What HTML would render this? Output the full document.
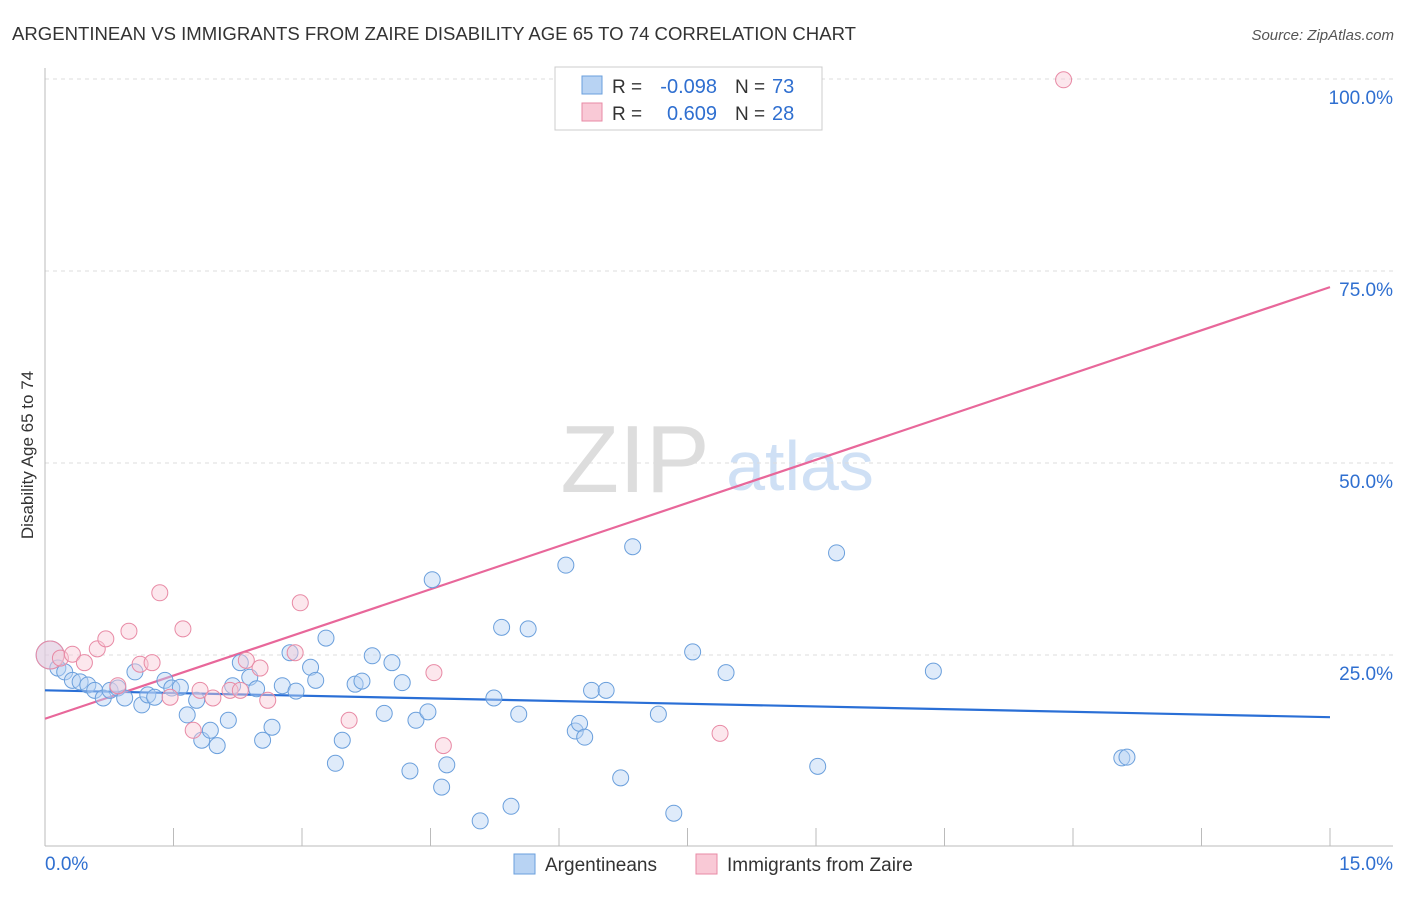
<!DOCTYPE html>
<html><head><meta charset="utf-8"><style>
body{margin:0;background:#fff;font-family:"Liberation Sans",sans-serif}
svg text{font-family:"Liberation Sans",sans-serif}
</style></head><body>
<svg id="c" width="1406" height="892" xmlns="http://www.w3.org/2000/svg">
<text x="12" y="40" font-size="18" fill="#333" textLength="844" lengthAdjust="spacingAndGlyphs">ARGENTINEAN VS IMMIGRANTS FROM ZAIRE DISABILITY AGE 65 TO 74 CORRELATION CHART</text>
<text x="1394" y="40" font-size="15" fill="#555" font-style="italic" text-anchor="end">Source: ZipAtlas.com</text>
<text x="33" y="455" font-size="17" fill="#333" transform="rotate(-90 33 455)" text-anchor="middle">Disability Age 65 to 74</text>
<g><text x="635" y="492" font-size="96" fill="#ddd" font-family="Liberation Serif" text-anchor="middle">ZIP</text><text x="800" y="490" font-size="70" fill="#cfe0f5" text-anchor="middle">atlas</text></g>
<g id="grid"></g><g id="axes"></g><g id="lines"></g><g id="pts"></g>
<g>
<rect x="555" y="67" width="267" height="63" fill="#fff" stroke="#ccc"/>
<rect x="582" y="76" width="20" height="18" fill="#b8d3f3" stroke="#6a9fdc"/>
<rect x="582" y="103" width="20" height="18" fill="#f9c9d6" stroke="#e88aa5"/>
<text x="612" y="93" font-size="19" fill="#333">R =</text>
<text x="717" y="93" font-size="20" fill="#2f6fd0" text-anchor="end">-0.098</text>
<text x="735" y="93" font-size="19" fill="#333">N =</text>
<text x="772" y="93" font-size="20" fill="#2f6fd0">73</text>
<text x="612" y="120" font-size="19" fill="#333">R =</text>
<text x="717" y="120" font-size="20" fill="#2f6fd0" text-anchor="end">0.609</text>
<text x="735" y="120" font-size="19" fill="#333">N =</text>
<text x="772" y="120" font-size="20" fill="#2f6fd0">28</text>
</g>
<g>
<rect x="514" y="854" width="21" height="20" fill="#b8d3f3" stroke="#6a9fdc"/>
<text x="545" y="871" font-size="19" fill="#333">Argentineans</text>
<rect x="696" y="854" width="21" height="20" fill="#f9c9d6" stroke="#e88aa5"/>
<text x="727" y="871" font-size="19" fill="#333">Immigrants from Zaire</text>
</g>
</svg>
<script>
const yTicks=[25,50,75,100];
const yTickLabels=["25.0%","50.0%","75.0%","100.0%"];
const xTickLabels=["0.0%","15.0%"];
const blueX=[0.06,0.15,0.23,0.32,0.41,0.50,0.58,0.68,0.76,0.85,0.93,1.05,1.13,1.20,1.28,1.40,1.48,1.58,1.66,1.77,1.83,1.93,2.01,2.14,2.19,2.28,2.39,2.47,2.54,2.65,2.77,2.86,2.93,3.10,3.16,3.28,3.39,3.47,3.62,3.70,3.82,3.96,4.05,4.17,4.26,4.33,4.47,4.52,4.63,4.69,5.08,5.24,5.33,5.44,5.53,5.64,6.08,6.19,6.24,6.30,6.38,6.55,6.72,6.86,7.16,7.34,7.56,7.95,9.02,9.24,10.37,12.57,12.63];
const blueY=[25.0,23.3,22.8,21.7,21.5,21.1,20.4,19.4,20.4,20.7,19.4,22.8,18.5,19.8,19.5,21.7,20.7,20.8,17.2,19.1,13.9,15.2,13.2,16.5,21.0,24.0,22.1,20.6,13.9,15.6,21.0,25.3,20.3,23.4,21.7,27.2,10.9,13.9,21.2,21.6,24.9,17.4,24.0,21.4,9.9,16.5,17.6,34.8,7.8,10.7,3.4,19.4,28.6,5.3,17.3,28.4,36.7,15.1,16.1,14.3,20.4,20.4,9.0,39.1,17.3,4.4,25.4,22.7,10.5,38.3,22.9,11.6,11.7];
const pinkX=[0.06,0.18,0.32,0.46,0.61,0.71,0.85,0.98,1.11,1.25,1.34,1.46,1.61,1.73,1.81,1.96,2.16,2.28,2.35,2.51,2.60,2.92,2.98,3.55,4.54,4.65,7.88,11.89];
const pinkY=[25.0,24.6,25.1,24.0,25.8,27.1,21.0,28.1,23.8,24.0,33.1,19.5,28.4,15.2,20.4,19.4,20.4,20.4,24.3,23.3,19.1,25.3,31.8,16.5,22.7,13.2,14.8,99.9];
const blueTrend=[20.4,16.9];
const pinkTrend=[16.7,72.9];
const X0=45,X1=1330,Y0=847,PY=7.68;
const sx=v=>X0+v/15*(X1-X0), sy=v=>Y0-v*PY;
const NS="http://www.w3.org/2000/svg";
function mk(p,t,a){const e=document.createElementNS(NS,t);for(const k in a)e.setAttribute(k,a[k]);document.getElementById(p).appendChild(e);return e;}
yTicks.forEach((t,i)=>{
 const g=mk('grid','line',{x1:X0,x2:1393,y1:sy(t),y2:sy(t),stroke:'#ddd','stroke-dasharray':'4,4'});
 
 
 const l=mk('axes','text',{x:1393,y:sy(t)+25,'font-size':19,fill:'#2f6fd0','text-anchor':'end'});l.textContent=yTickLabels[i];
 
 
});
const ax=mk('axes','line',{x1:X0,x2:1393,y1:846,y2:846,stroke:'#bbb'});


const ay=mk('axes','line',{x1:X0,x2:X0,y1:68,y2:846,stroke:'#bbb'});


for(let i=0;i<=10;i++){const x=sx(i*1.5);const t=mk('axes','line',{x1:x,x2:x,y1:828,y2:846,stroke:'#bbb'});
 
 }
[[0,'start',45],[1,'end',1393]].forEach(([i,a,x])=>{const t=mk('axes','text',{x:x,y:870,'font-size':19,fill:'#2f6fd0','text-anchor':a});t.textContent=xTickLabels[i];
 
 });
function pts(X,Y,f,s,n){X.forEach((x,i)=>{const c=mk('pts','circle',{cx:sx(x),cy:sy(Y[i]),r:(i==0?14:8),fill:f,'fill-opacity':0.45,stroke:s,'stroke-width':1});
 
 });}
pts(blueX,blueY,'#b8d3f3','#6a9fdc','point-argentinean');
pts(pinkX,pinkY,'#f9c9d6','#e88aa5','point-zaire');
const bl=mk('lines','line',{x1:sx(0),y1:sy(blueTrend[0]),x2:sx(15),y2:sy(blueTrend[1]),stroke:'#2a6fd6','stroke-width':2.2});


const pl=mk('lines','line',{x1:sx(0),y1:sy(pinkTrend[0]),x2:sx(15),y2:sy(pinkTrend[1]),stroke:'#e8679a','stroke-width':2.2});


</script>
</body></html>
